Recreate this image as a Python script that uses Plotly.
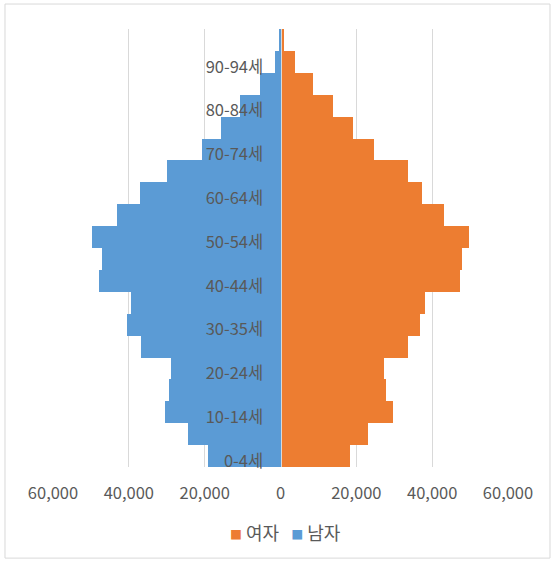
import plotly.graph_objects as go

# Age groups (bottom to top), label "30-35세" kept as in the source chart
ages = ['0-4세', '5-9세', '10-14세', '15-19세', '20-24세', '25-29세', '30-35세', '35-39세',
        '40-44세', '45-49세', '50-54세', '55-59세', '60-64세', '65-69세', '70-74세',
        '75-79세', '80-84세', '85-89세', '90-94세', '95-99세']

female = [18300, 23200, 29700, 27700, 27300, 33500, 36900, 38000, 47300, 47800,
          49700, 43100, 37400, 33500, 24700, 19000, 13800, 8500, 3700, 1000]
male = [19200, 24400, 30500, 29500, 29000, 36800, 40600, 39300, 48000, 47200,
        49800, 43000, 37100, 30000, 20600, 15600, 10800, 5500, 1400, 300]

x_tickvals = [-60000, -40000, -20000, 0, 20000, 40000, 60000]
x_ticktext = ['60,000', '40,000', '20,000', '0', '20,000', '40,000', '60,000']

FONT = 'Noto Sans CJK KR'
GREY = '#595959'
ORANGE = '#ED7D31'
BLUE = '#5B9BD5'

fig = go.Figure()

fig.add_trace(go.Bar(
    y=ages, x=female, orientation='h', name='여자',
    marker=dict(color=ORANGE, line=dict(width=0)),
    hovertemplate='%{y}: %{x:,}<extra>여자</extra>'
))

fig.add_trace(go.Bar(
    y=ages, x=[-v for v in male], orientation='h', name='남자',
    marker=dict(color=BLUE, line=dict(width=0)),
    customdata=male,
    hovertemplate='%{y}: %{customdata:,}<extra>남자</extra>'
))

# compact legend like the original (plotly's legend is wider)
legend_text = (f'<span style="color:{ORANGE};font-size:12px">■</span> 여자 &nbsp; '
               f'<span style="color:{BLUE};font-size:12px">■</span> 남자')

n = len(ages)
fig.update_layout(
    width=553, height=562,
    margin=dict(l=53, r=45, t=29, b=95),
    paper_bgcolor='white', plot_bgcolor='white',
    barmode='overlay', bargap=0,
    showlegend=False,
    font=dict(family=FONT, size=16, color=GREY),
    xaxis=dict(range=[-60000, 60000], tickvals=x_tickvals, ticktext=x_ticktext,
               showgrid=True, gridcolor='#d9d9d9', gridwidth=1,
               zeroline=False, showline=False, ticks='', ticklabelstandoff=14,
               tickfont=dict(size=16.5, color=GREY), fixedrange=True, automargin=False),
    yaxis=dict(type='category', categoryorder='array', categoryarray=ages,
               range=[-0.5, n - 0.5],
               tickvals=ages[::2], ticktext=ages[::2],
               anchor='free', position=0.5, side='left',
               showline=True, linecolor='#d9d9d9', linewidth=1,
               ticks='', ticklabelstandoff=14, ticklabelshift=5, showgrid=False,
               tickfont=dict(size=16.5, color=GREY), fixedrange=True, automargin=False),
    annotations=[dict(text=legend_text, xref='paper', yref='paper',
                      x=(285 - 53) / 455, y=-0.148, xanchor='center', yanchor='middle',
                      showarrow=False, font=dict(size=18, color=GREY))],
    shapes=[dict(type='rect', xref='paper', yref='paper',
                 x0=-0.1055, x1=1.0923, y0=-0.208, y1=1.057,
                 line=dict(color='#d9d9d9', width=1), fillcolor='rgba(0,0,0,0)',
                 layer='below')],
)

fig.write_html("out.html", config={'displayModeBar': False},
               post_script="document.body.style.margin='0px';")
